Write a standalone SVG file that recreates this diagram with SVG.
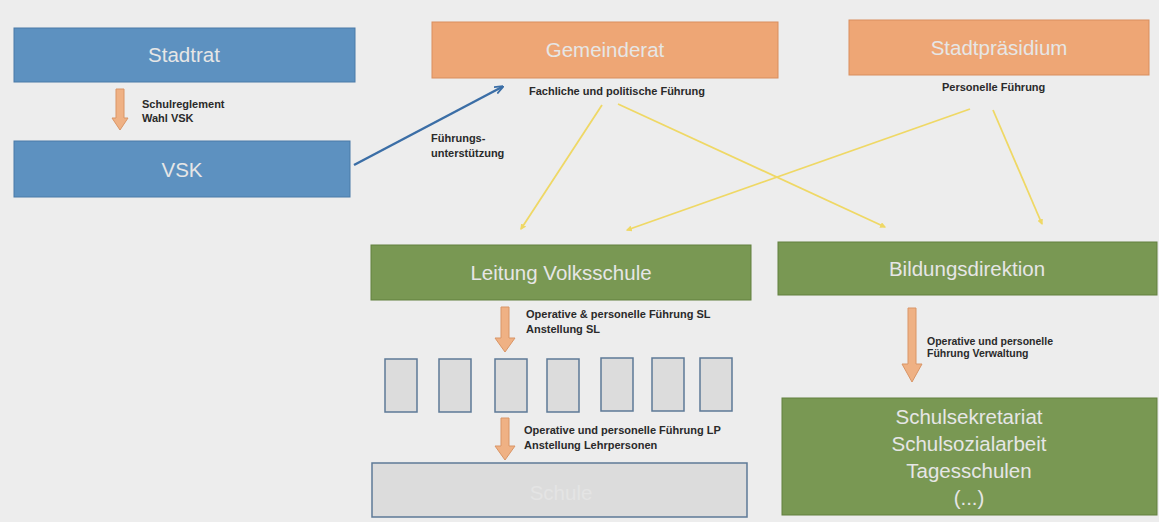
<svg xmlns="http://www.w3.org/2000/svg" width="1159" height="522" viewBox="0 0 1159 522">
<style>
.title{font-family:"Liberation Sans",Arial,sans-serif;font-size:20.5px;fill:#e6e6e6;text-anchor:middle}
.lbl{font-family:"Liberation Sans",Arial,sans-serif;font-size:11px;font-weight:bold;fill:#2a2a2a}
.blue{fill:#5d91c0;stroke:#4a7aa8;stroke-width:1}
.orange{fill:#eea675;stroke:#d98e5e;stroke-width:1}
.green{fill:#799853;stroke:#62803f;stroke-width:1}
.gray{fill:#dcdcdc;stroke:#5d7997;stroke-width:1.5}
.bigarrow{fill:#efb184;stroke:#d99566;stroke-width:1}
.yl{stroke:#efd865;stroke-width:1.8;fill:none;marker-end:url(#ya)}
</style>
<defs>
<marker id="ya" viewBox="0 0 10 10" refX="8" refY="5" markerWidth="6" markerHeight="6" orient="auto" markerUnits="userSpaceOnUse">
<path d="M0,0 L10,5 L0,10 z" fill="#efd865"/>
</marker>
<marker id="ba" viewBox="0 0 10 10" refX="8" refY="5" markerWidth="9" markerHeight="9" orient="auto" markerUnits="userSpaceOnUse">
<path d="M0,1 L10,5 L0,9" fill="none" stroke="#3b6ea6" stroke-width="2"/>
</marker>
</defs>
<rect width="1159" height="522" fill="#ededed"/>

<g id="stadtrat"><rect class="blue" x="14" y="28" width="341" height="54"/><text class="title" x="184" y="62">Stadtrat</text></g>
<g id="vsk"><rect class="blue" x="14" y="141" width="336" height="56"/><text class="title" x="182" y="177">VSK</text></g>
<g id="gemeinderat"><rect class="orange" x="432" y="22" width="346" height="56"/><text class="title" x="605" y="57">Gemeinderat</text></g>
<g id="stadtpraesidium"><rect class="orange" x="849" y="20" width="300" height="55"/><text class="title" x="999" y="55">Stadtpräsidium</text></g>
<g id="leitung"><rect class="green" x="371" y="245" width="380" height="55"/><text class="title" x="561" y="280">Leitung Volksschule</text></g>
<g id="bildung"><rect class="green" x="778" y="242" width="379" height="53"/><text class="title" x="967" y="276">Bildungsdirektion</text></g>
<g id="verwaltung"><rect class="green" x="782" y="398" width="375" height="117"/>
<text class="title" x="969" y="424">Schulsekretariat</text>
<text class="title" x="969" y="451">Schulsozialarbeit</text>
<text class="title" x="969" y="478">Tagesschulen</text>
<text class="title" x="969" y="505">(...)</text></g>
<g id="schulen">
<rect class="gray" x="385" y="359" width="32" height="53"/>
<rect class="gray" x="439" y="359" width="32" height="53"/>
<rect class="gray" x="495" y="359" width="32" height="53"/>
<rect class="gray" x="547" y="359" width="32" height="53"/>
<rect class="gray" x="601" y="358" width="32" height="53"/>
<rect class="gray" x="652" y="358" width="32" height="53"/>
<rect class="gray" x="700" y="358" width="32" height="53"/>
</g>
<g id="schule"><rect class="gray" x="372" y="463" width="375" height="54"/><text class="title" x="561" y="500" style="fill:#e4e4e4">Schule</text></g>

<g id="connectors">
<polygon class="bigarrow" points="116,89 124,89 124,118 128,118 120,130 112,118 116,118"/>
<polygon class="bigarrow" points="501,307 509,307 509,338 515,338 505,352 495,338 501,338"/>
<polygon class="bigarrow" points="501,418 509,418 509,446 515,446 505,460 495,446 501,446"/>
<polygon class="bigarrow" points="908,308 916,308 916,364 922,364 912,382 902,364 908,364"/>
<line x1="354" y1="165" x2="502" y2="87" stroke="#3b6ea6" stroke-width="2.5" marker-end="url(#ba)"/>
<line class="yl" x1="602" y1="105" x2="521" y2="229"/>
<line class="yl" x1="618" y1="104" x2="885" y2="227"/>
<line class="yl" x1="970" y1="109" x2="627" y2="230"/>
<line class="yl" x1="993" y1="110" x2="1042" y2="224"/>
</g>

<g id="labels">
<text class="lbl" x="142" y="108">Schulreglement</text>
<text class="lbl" x="142" y="122">Wahl VSK</text>
<text class="lbl" x="529" y="95">Fachliche und politische Führung</text>
<text class="lbl" x="942" y="91">Personelle Führung</text>
<text class="lbl" x="431" y="142">Führungs-</text>
<text class="lbl" x="431" y="157">unterstützung</text>
<text class="lbl" x="526" y="318">Operative &amp; personelle Führung SL</text>
<text class="lbl" x="526" y="333">Anstellung SL</text>
<text class="lbl" x="524" y="434">Operative und personelle Führung LP</text>
<text class="lbl" x="524" y="449">Anstellung Lehrpersonen</text>
<text class="lbl" x="927" y="345" style="font-size:10.5px">Operative und personelle</text>
<text class="lbl" x="927" y="357" style="font-size:10.5px">Führung Verwaltung</text>
</g>
</svg>
